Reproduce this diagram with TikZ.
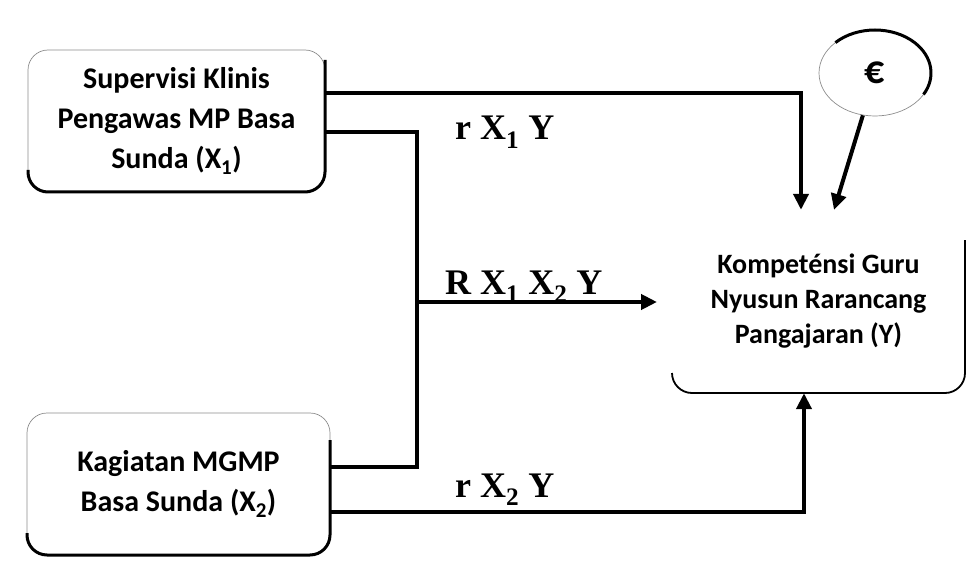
\documentclass[tikz,border=0pt]{standalone}
\usepackage{fontspec}
\setmainfont{Carlito}
\newfontfamily\lblfont{Liberation Serif}
\usetikzlibrary{arrows.meta,shapes.geometric}
\begin{document}
\begin{tikzpicture}[x=1pt,y=-1pt,
  conn/.style={line width=4pt},
  arr/.style={conn,-{Triangle[length=16pt,width=15pt]}},
  boxtext/.style={font=\fontsize{30}{40}\selectfont\bfseries,align=center},
  srcbox/.style={draw=black!45,line width=0.7pt,rounded corners=20pt,boxtext,inner sep=0pt},
  edge3/.style={line width=3pt,rounded corners=20pt},
  lbl/.style={font=\lblfont\fontsize{36}{40}\selectfont\bfseries,inner sep=0pt,anchor=base west}]
\useasboundingbox (0,0) rectangle (975,583);
% source boxes
\node[srcbox,minimum width=297pt,minimum height=142pt] (x1) at (176.5,121)
  {Supervisi Klinis\\Pengawas MP Basa\\Sunda (X\textsubscript{1})};
\draw[edge3] (28,170) -- (28,192) -- (325,192) -- (325,60);
\node[srcbox,minimum width=303pt,minimum height=142pt] (x2) at (178.5,484)
  {Kagiatan MGMP\\Basa Sunda (X\textsubscript{2})};
\draw[edge3] (27,533) -- (27,555) -- (330,555) -- (330,440);
% target box
\node[inner sep=0pt,minimum width=293pt,minimum height=183pt,
      font=\fontsize{28}{35}\selectfont\bfseries,align=center] (y) at (818.5,301.5)
  {Kompeténsi Guru\\Nyusun Rarancang\\Pangajaran (Y)};
\draw[line width=1.8pt,rounded corners=20pt] (672,373) -- (672,393) -- (965,393) -- (965,240);
% error ellipse
\node[ellipse,draw=black!45,line width=0.7pt,minimum width=112pt,minimum height=86pt,
      font=\fontsize{40}{40}\selectfont\bfseries] (eps) at (875,73) {€};
\draw[line width=3pt] (875,73) ++(135:56pt and 43pt) arc[start angle=135,end angle=-30,x radius=56pt,y radius=43pt];
% coordinates
\coordinate (t1) at (801,93);
\coordinate (j1) at (417,132);
\coordinate (j2) at (417,467);
\coordinate (rs) at (417,302);
\coordinate (rt) at (657,302);
\coordinate (b1) at (804,512);
\coordinate (e2) at (834,210);
% connectors
\draw[arr] (x1.east |- t1) -- (t1) -- (t1 |- y.north);
\draw[conn] (x1.east |- j1) -- (j1) -- (j2) -- (x2.east |- j2);
\draw[arr] (rs) -- (rt);
\draw[arr] (x2.east |- b1) -- (b1) -- (b1 |- y.south);
\draw[arr] (eps.-106) -- (e2);
% labels
\node[lbl] at (455,140) {r X\textsubscript{1} Y};
\node[lbl] at (445,294) {R X\textsubscript{1} X\textsubscript{2} Y};
\node[lbl] at (455,497) {r X\textsubscript{2} Y};
\end{tikzpicture}
\end{document}
